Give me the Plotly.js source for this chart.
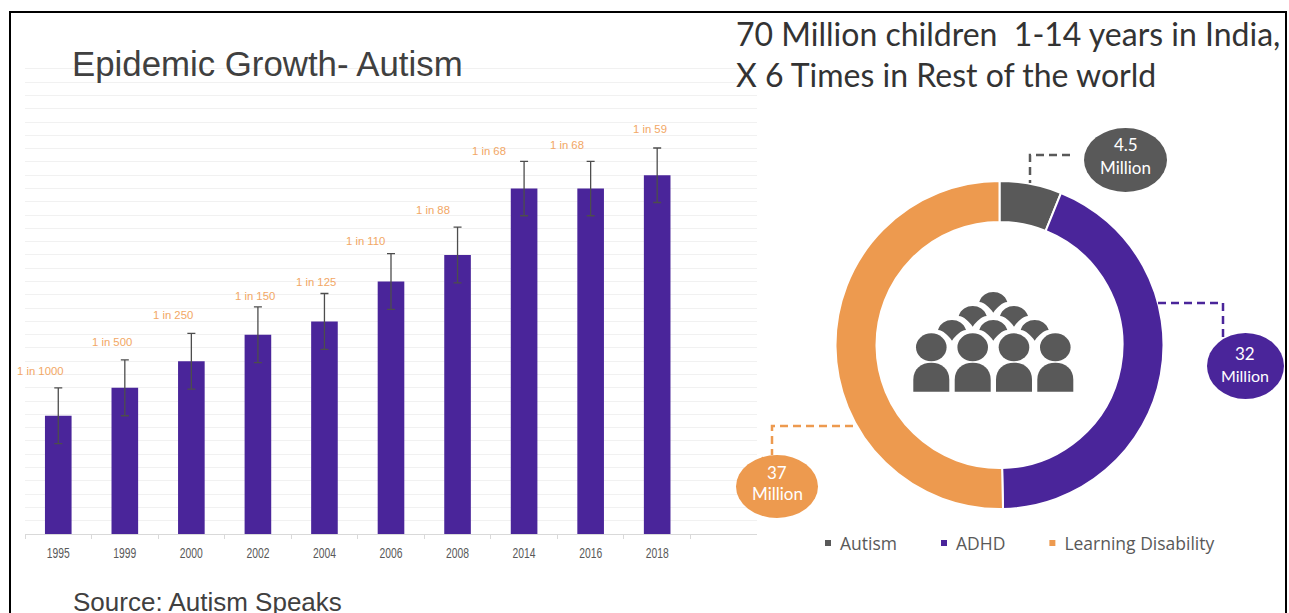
<!DOCTYPE html>
<html><head><meta charset="utf-8">
<script src="https://cdn.plot.ly/plotly-3.0.1.min.js"></script>
<style>html,body{margin:0;padding:0;background:#fff;overflow:hidden}</style>
</head><body><div id="chart" style="width:1289px;height:613px"></div>
<script>
const categories = ['1995','1999','2000','2002','2004','2006','2008','2014','2016','2018',' '];
const prevalence = [8.9,11,13,15,16,19,21,26,26,27,null];
const errorSize = [2.1,2.1,2.1,2.1,2.1,2.1,2.1,2.05,2.05,2.05,0];
const rateLabels = ['1 in 1000','1 in 500','1 in 250','1 in 150','1 in 125','1 in 110','1 in 88','1 in 68','1 in 68','1 in 59'];
const labelShiftX = [-18,-13,-18,-3,-8,-26,-25,-35,-24,-7];
const labelShiftY = [17,18,18,11,12,13,17,10,16,19];
const conditions = ['Autism','ADHD','Learning Disability'];
const millions = [4.5,32,37];

const W=1289,H=613;
const GREY='#595959',PURPLE='#4A259A',ORANGE='#ED9A4F';
const px=x=>x/W, py=y=>1-y/H;
const P=(x,y)=>px(x)+','+py(y);

const bars={type:'bar',x:categories,y:prevalence,width:0.4,showlegend:false,
  marker:{color:PURPLE},
  error_y:{type:'data',array:errorSize,visible:true,color:'#4d4d4d',thickness:1.3,width:4},
  hoverinfo:'x+y'};
const donut={type:'pie',labels:conditions,values:millions,sort:false,direction:'clockwise',rotation:0,
  hole:0.75,textinfo:'none',
  marker:{colors:[GREY,PURPLE,ORANGE],line:{color:'#fff',width:2}},
  domain:{x:[px(835.5),px(1163.5)],y:[py(509),py(181)]}};

const shapes=[];
function ell(x0,x1,y0,y1,c){shapes.push({type:'circle',xref:'paper',yref:'paper',x0:px(x0),x1:px(x1),y0:py(y1),y1:py(y0),fillcolor:c,line:{width:0}});}
function conn(pts,c){shapes.push({type:'path',xref:'paper',yref:'paper',path:'M'+pts.map(p=>P(p[0],p[1])).join(' L'),line:{color:c,width:2.5,dash:'8px,5px'}});}
function fill(path){shapes.push({type:'path',xref:'paper',yref:'paper',path:path,fillcolor:GREY,line:{width:0}});}

// frame
shapes.push({type:'rect',xref:'paper',yref:'paper',x0:px(10),x1:px(1286),y0:-0.05,y1:py(12),line:{color:'#000',width:2}});
// connectors and callouts
conn([[1070,155],[1030,155],[1030,183]],GREY);
conn([[1158,303],[1223,303],[1223,338]],PURPLE);
conn([[853,426],[772,426],[772,455]],ORANGE);
ell(1084,1167,128,192,GREY);
ell(1207,1284,333,399,PURPLE);
ell(736,818,455,518,ORANGE);
// people icon
[931.3,972.7,1014,1055.3].forEach(cx=>{
  ell(cx-15.3,cx+15.3,333.3,361.3,GREY);
  const l=cx-18,r=cx+18,t=362.7,b=391.7;
  fill('M'+P(l,b)+' L'+P(l,t+17)+' C'+P(l,t+6)+' '+P(cx-10,t)+' '+P(cx,t)+' C'+P(cx+10,t)+' '+P(r,t+6)+' '+P(r,t+17)+' L'+P(r,b)+' Z');
});
[[993.3,292],[972.7,306],[1014,306],[952,320],[993.3,320],[1034.7,320]].forEach(f=>{
  const c=f[0],t=f[1];
  fill('M'+P(c-14,t+10)+' C'+P(c-10,t-3.3)+' '+P(c+10,t-3.3)+' '+P(c+14,t+10)+' C'+P(c+9,t+10.5)+' '+P(c+4,t+15)+' '+P(c,t+20.7)+' C'+P(c-4,t+15)+' '+P(c-9,t+10.5)+' '+P(c-14,t+10)+' Z');
});

const annotations=rateLabels.map((t,i)=>({xref:'x',yref:'y',x:i,y:prevalence[i]+errorSize[i],text:t,showarrow:false,
  xshift:labelShiftX[i],yshift:labelShiftY[i],yanchor:'middle',font:{family:'Liberation Sans',size:11.3,color:'#F2A765'}}));
function page(text,x,y,size,family,color,anchor){annotations.push({xref:'paper',yref:'paper',x:px(x),y:py(y),text:text,showarrow:false,xanchor:anchor||'left',yanchor:'middle',align:anchor==='center'?'center':'left',font:{family:family,size:size,color:color}});}
page('Epidemic Growth- Autism',69.5,64,34.8,'Liberation Sans','#404040');
page('Source: Autism Speaks',71,602,26,'Liberation Sans','#404040');
page('70 Million children  1-14 years in India,',733.5,33,32,'Lato','#333333');
page('X 6 Times in Rest of the world',733.5,75,32,'Lato','#333333');
page('4.5',1125.5,145,17,'Lato','#fff','center');
page('Million',1125.5,167,17,'Lato','#fff','center');
page('32',1245,353,17,'Lato','#fff','center');
page('Million',1245,375,16,'Lato','#fff','center');
page('37',777,472,17,'Lato','#fff','center');
page('Million',777,493,17,'Lato','#fff','center');

const layout={width:W,height:H,margin:{l:0,r:0,t:0,b:0,pad:0},paper_bgcolor:'#fff',plot_bgcolor:'rgba(0,0,0,0)',
  font:{family:'Liberation Sans'},
  xaxis:{domain:[px(25),px(757)],type:'category',categoryorder:'array',categoryarray:categories,range:[-0.5,10.5],
    tickson:'boundaries',ticks:'outside',ticklen:4,tickcolor:'#d9d9d9',showgrid:false,ticklabelstandoff:6,
    showline:true,linecolor:'#d9d9d9',linewidth:1,tickfont:{family:'Liberation Sans',size:14,color:GREY},tickangle:0},
  yaxis:{domain:[py(534),py(62.3)],range:[0,35.5],dtick:1,showticklabels:false,ticks:'',gridcolor:'#f1f1f1',gridwidth:1,zeroline:false,showline:false},
  showlegend:true,
  legend:{orientation:'h',x:px(786),y:py(543),xanchor:'left',yanchor:'middle',traceorder:'normal',
    itemwidth:44,font:{family:'Open Sans',size:17.5,color:GREY},bgcolor:'rgba(0,0,0,0)'},
  shapes:shapes,annotations:annotations};
Plotly.newPlot('chart',[bars,donut],layout,{displayModeBar:false}).then(()=>{
  document.querySelectorAll('.legend path.legendpie').forEach(p=>p.setAttribute('d','M19,4H11V-4H19Z'));
  document.querySelectorAll('.xtick text').forEach(t=>{
    const x=t.getAttribute('x')||0, tr=t.getAttribute('transform')||'';
    t.setAttribute('transform',tr+' translate('+x+',0) scale(0.74,1) translate('+(-x)+',0)');
  });
});
</script></body></html>
